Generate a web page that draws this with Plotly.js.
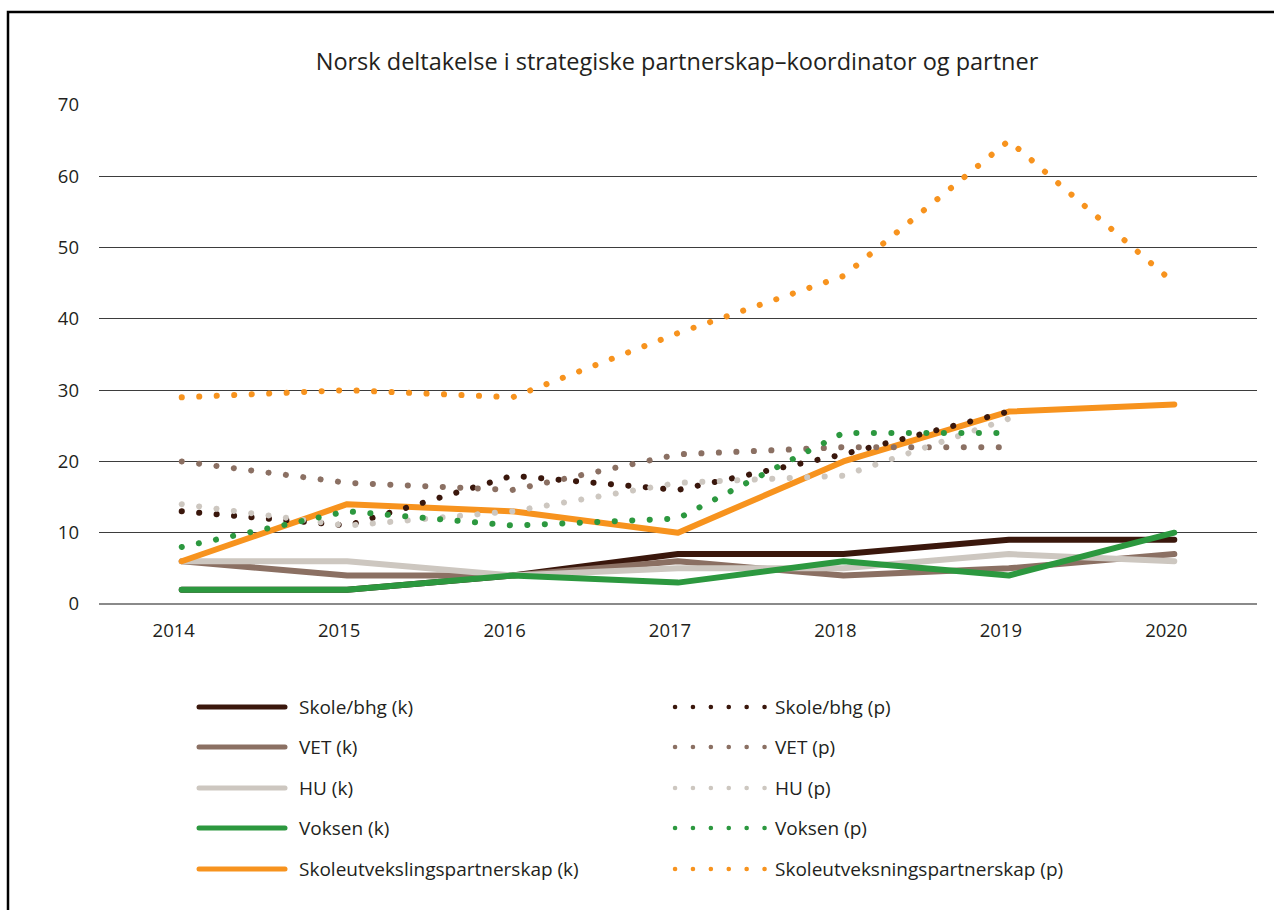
<!DOCTYPE html>
<html>
<head>
<meta charset="utf-8">
<script src="https://cdn.plot.ly/plotly-3.0.1.min.js"></script>
<style>
  html, body { margin: 0; padding: 0; background: #ffffff; }
  #chart { width: 1274px; height: 910px; }
  #chart .js-line { stroke-linecap: round !important; stroke-linejoin: round !important; }
  #chart .shapelayer path { stroke-linecap: round !important; }
</style>
</head>
<body>
<div id="chart"></div>
<script>
// ---- data ----
const years = [2014, 2015, 2016, 2017, 2018, 2019, 2020];
const yearsP = [2014, 2015, 2016, 2017, 2018, 2019];

const skoleK  = [2, 2, 4, 7, 7, 9, 9];
const vetK    = [6, 4, 4, 6, 4, 5, 7];
const huK     = [6, 6, 4, 5, 5, 7, 6];
const voksenK = [2, 2, 4, 3, 6, 4, 10];
const utvK    = [6, 14, 13, 10, 20, 27, 28];

const skoleP  = [13, 11, 18, 16, 21, 27];
const vetP    = [20, 17, 16, 21, 22, 22];
const huP     = [14, 11, 13, 17, 18, 26];
const voksenP = [8, 13, 11, 12, 24, 24];
const utvP    = [29, 30, 29, 38, 46, 65, 45];

const namesK = ["Skole/bhg (k)", "VET (k)", "HU (k)", "Voksen (k)", "Skoleutvekslingspartnerskap (k)"];
const namesP = ["Skole/bhg (p)", "VET (p)", "HU (p)", "Voksen (p)", "Skoleutveksningspartnerskap (p)"];
const colors = ["#3a170c", "#8b7063", "#cdc7c0", "#2c983f", "#f7931e"];

const seriesK = [skoleK, vetK, huK, voksenK, utvK];
const seriesP = [skoleP, vetP, huP, voksenP, utvP];
const xP = [yearsP, yearsP, yearsP, yearsP, years];

// ---- geometry helpers (layout only) ----
const W = 1274, H = 910;
const mL = 99, mR = 17, mT = 105, mB = 306;
const plotW = W - mL - mR, plotH = H - mT - mB;
const px = v => (v - mL) / plotW;
const py = v => (H - mB - v) / plotH;

const DOT = "0.1px,17.4px";
const LEGDOT = "0.1px,17.8px";
const FONT = "Open Sans, Noto Sans, sans-serif";
const TXT = "#231f20";

const traces = [];
seriesK.forEach((s, i) => {
  traces.push({
    type: "scatter", mode: "lines", x: years, y: s, name: namesK[i],
    line: { color: colors[i], width: 6 }, showlegend: false, hoverinfo: "x+y+name"
  });
});
seriesP.forEach((s, i) => {
  traces.push({
    type: "scatter", mode: "lines", x: xP[i], y: s, name: namesP[i],
    line: { color: colors[i], width: 6, dash: DOT }, showlegend: false, hoverinfo: "x+y+name"
  });
});

// ---- custom two-column legend ----
const rowY = [707, 747, 788, 828, 869];
const shapes = [];
const annotations = [];
namesK.forEach((n, i) => {
  shapes.push({ type: "line", xref: "paper", yref: "paper",
    x0: px(199), x1: px(285), y0: py(rowY[i]), y1: py(rowY[i]),
    line: { color: colors[i], width: 5 } });
  annotations.push({ xref: "paper", yref: "paper", x: px(297), y: py(rowY[i]),
    xanchor: "left", yanchor: "middle", showarrow: false, text: n,
    font: { family: FONT, size: 19, color: TXT } });
});
namesP.forEach((n, i) => {
  shapes.push({ type: "line", xref: "paper", yref: "paper",
    x0: px(675), x1: px(765), y0: py(rowY[i]), y1: py(rowY[i]),
    line: { color: colors[i], width: 4.5, dash: LEGDOT } });
  annotations.push({ xref: "paper", yref: "paper", x: px(773), y: py(rowY[i]),
    xanchor: "left", yanchor: "middle", showarrow: false, text: n,
    font: { family: FONT, size: 19, color: TXT } });
});

// frame
shapes.push({ type: "rect", xref: "paper", yref: "paper",
  x0: px(8), x1: px(1290), y0: py(12), y1: py(930),
  line: { color: "#000000", width: 2.5 }, fillcolor: "rgba(0,0,0,0)", layer: "below" });

const layout = {
  width: W, height: H,
  margin: { l: mL, r: mR, t: mT, b: mB, pad: 0 },
  paper_bgcolor: "#ffffff", plot_bgcolor: "#ffffff",
  font: { family: FONT, color: TXT },
  title: {
    text: "Norsk deltakelse i strategiske partnerskap–koordinator og partner",
    font: { family: FONT, size: 23.5, color: TXT },
    x: 677 / W, xanchor: "center", xref: "container",
    y: 1 - 62 / H, yanchor: "middle", yref: "container"
  },
  xaxis: {
    range: [2013.5, 2020.5], tickmode: "array", tickvals: years,
    ticktext: years.map(String), showgrid: false, zeroline: false,
    showline: false, ticks: "", ticklabelstandoff: 13, ticklabelshift: -8,
    tickfont: { family: FONT, size: 18.5, color: TXT }, fixedrange: true
  },
  yaxis: {
    range: [0, 70], dtick: 10, tick0: 0, showgrid: true,
    gridcolor: "#3d3d3d", gridwidth: 1, zeroline: true,
    zerolinecolor: "#8a8a8a", zerolinewidth: 2, showline: false, ticks: "",
    ticklabelstandoff: 19,
    tickfont: { family: FONT, size: 18.5, color: TXT }, fixedrange: true
  },
  showlegend: false,
  shapes: shapes,
  annotations: annotations
};

Plotly.newPlot("chart", traces, layout, { displayModeBar: false, staticPlot: true });
</script>
</body>
</html>
